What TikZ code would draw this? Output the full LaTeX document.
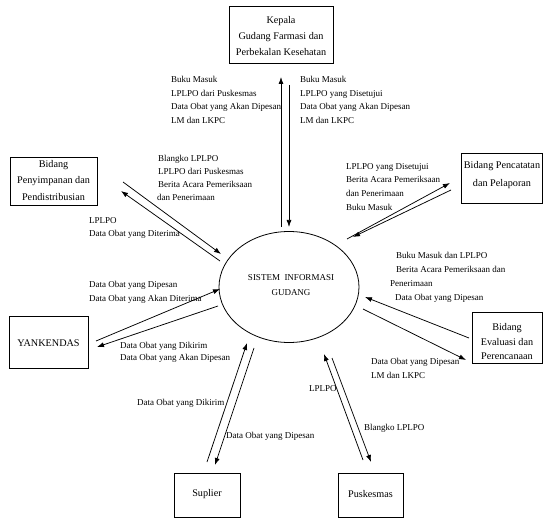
\documentclass[tikz,border=0pt]{standalone}
\usepackage{fontspec}
\setmainfont{Liberation Serif}
\usetikzlibrary{arrows.meta,shapes.geometric}
\begin{document}
\begin{tikzpicture}[x=1pt,y=-1pt,
  box/.style={draw, line width=0.8pt, inner sep=0pt},
  btxt/.style={font=\fontsize{10.2}{16}\selectfont, align=center, inner sep=0pt},
  flow/.style={line width=0.75pt, -{Latex[length=7pt,width=5pt]}},
  lbl/.style={anchor=north west, font=\fontsize{9}{13.7}\selectfont, align=left, inner sep=0pt},
  lbls/.style={anchor=west, font=\fontsize{9}{13.7}\selectfont, inner sep=0pt}]
\useasboundingbox (0,0) rectangle (543,518);

% boxes
\node[box, minimum width=104pt, minimum height=57pt] (kepala) at (281,34.5) {};
\node[btxt] (kepalaT) at (281,36) {Kepala\\Gudang Farmasi dan\\Perbekalan Kesehatan};
\node[box, minimum width=87pt, minimum height=48pt] (simpan) at (53.5,181) {};
\node[btxt, font=\fontsize{10.2}{16.5}\selectfont] (simpanT) at (53.5,180.5) {Bidang\\Penyimpanan dan\\Pendistribusian};
\node[box, minimum width=81pt, minimum height=50pt] (catat) at (501.5,178) {};
\node[btxt, font=\fontsize{10.2}{18.5}\selectfont] (catatT) at (502,175) {Bidang Pencatatan\\dan Pelaporan};
\node[box, minimum width=79pt, minimum height=52pt] (yank) at (48.5,342) {};
\node[btxt] (yankT) at (48.5,343) {YANKENDAS};
\node[box, minimum width=70pt, minimum height=51pt] (eval) at (507,337.5) {};
\node[btxt, font=\fontsize{10.2}{14.5}\selectfont] (evalT) at (507,342) {Bidang\\Evaluasi dan\\Perencanaan};
\node[box, minimum width=66pt, minimum height=44pt] (sup) at (207,495) {};
\node[btxt] (supT) at (207,494) {Suplier};
\node[box, minimum width=65pt, minimum height=44pt] (pus) at (370.5,495) {};
\node[btxt] (pusT) at (370.5,494) {Puskesmas};

% central process
\node[draw, ellipse, line width=0.8pt, minimum width=140pt, minimum height=111pt, inner sep=0pt] (sig) at (289,287) {};
\node[align=center, inner sep=0pt, font=\fontsize{9}{15}\selectfont] (sigT) at (291,285.5) {SISTEM\ \ INFORMASI\\GUDANG};

% connector end points
\coordinate (k1a) at (281,227); \coordinate (k1b) at (281,77);
\coordinate (k2a) at (289,85);  \coordinate (k2b) at (289,227);
\coordinate (p1a) at (123,182); \coordinate (p1b) at (221,254);
\coordinate (p2a) at (220,261); \coordinate (p2b) at (121,191);
\coordinate (c1a) at (347,239); \coordinate (c1b) at (450,183);
\coordinate (c2a) at (451,190); \coordinate (c2b) at (353,237);
\coordinate (y1a) at (96,341);  \coordinate (y1b) at (220,289);
\coordinate (y2a) at (218,306); \coordinate (y2b) at (97,347);
\coordinate (e1a) at (469,338); \coordinate (e1b) at (365,297);
\coordinate (e2a) at (363,309); \coordinate (e2b) at (466,360);
\coordinate (s1a) at (207,462); \coordinate (s1b) at (247,343);
\coordinate (s2a) at (254,348); \coordinate (s2b) at (215,465);
\coordinate (u1a) at (363,460); \coordinate (u1b) at (324,354);
\coordinate (u2a) at (332,358); \coordinate (u2b) at (371,462);

\foreach \f in {k1,k2,p1,p2,c1,c2,y1,y2,e1,e2,s1,s2,u1,u2}
  \draw[flow] (\f a) -- (\f b);

% labels
\node[lbl] (l1) at (171,76) {Buku Masuk\\LPLPO dari Puskesmas\\Data Obat yang Akan Dipesan\\LM dan LKPC};
\node[lbl] (l2) at (300,76) {Buku Masuk\\LPLPO yang Disetujui\\Data Obat yang Akan Dipesan\\LM dan LKPC};
\node[lbl, font=\fontsize{9}{13}\selectfont] (l3) at (158,155) {Blangko LPLPO\\LPLPO dari Puskesmas\\Berita Acara Pemeriksaan\\\hspace*{-1pt}dan Penerimaan};
\node[lbl, font=\fontsize{9}{13}\selectfont] (l4) at (89,217.5) {LPLPO\\Data Obat yang Diterima};
\node[lbl] (l5) at (346,163) {LPLPO yang Disetujui\\Berita Acara Pemeriksaan\\dan Penerimaan\\Buku Masuk};
\node[lbl, font=\fontsize{9}{14}\selectfont] (l6) at (390,252.5) {\hspace*{6pt}Buku Masuk dan LPLPO\\\hspace*{6pt}Berita Acara Pemeriksaan dan\\Penerimaan};
\node[lbl, font=\fontsize{9}{14}\selectfont] (l7) at (89,281) {Data Obat yang Dipesan\\Data Obat yang Akan Diterima};
\node[lbl, font=\fontsize{9}{12.5}\selectfont] (l8) at (120,342) {Data Obat yang Dikirim\\Data Obat yang Akan Dipesan};
\node[lbls] (l9) at (395,298) {Data Obat yang Dipesan};
\node[lbl, font=\fontsize{9}{14}\selectfont] (l10) at (371,358) {Data Obat yang Dipesan\\LM dan LKPC};
\node[lbls] (l11) at (137,403) {Data Obat yang Dikirim};
\node[lbls] (l12) at (226,436) {Data Obat yang Dipesan};
\node[lbls] (l13) at (309,389) {LPLPO};
\node[lbls] (l14) at (364,428) {Blangko LPLPO};
\end{tikzpicture}
\end{document}
